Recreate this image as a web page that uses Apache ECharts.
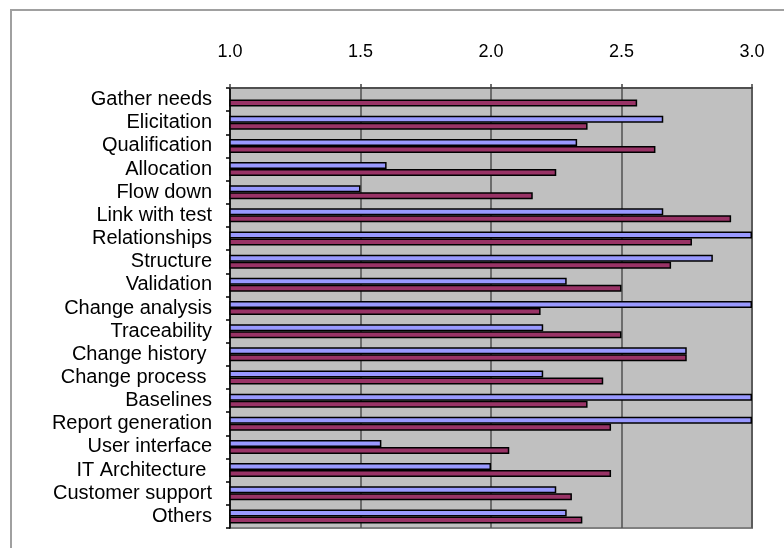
<!DOCTYPE html>
<html>
<head>
<meta charset="utf-8">
<script src="https://cdn.jsdelivr.net/npm/echarts@6/dist/echarts.min.js"></script>
<style>
  html, body { margin: 0; padding: 0; background: #ffffff; }
  #chart { width: 784px; height: 548px; }
</style>
</head>
<body>
<div id="chart"></div>
<script>
// Requirement topics, listed top to bottom
const categories = [
  'Gather needs', 'Elicitation', 'Qualification', 'Allocation', 'Flow down',
  'Link with test', 'Relationships', 'Structure', 'Validation', 'Change analysis',
  'Traceability', 'Change history ', 'Change process ', 'Baselines',
  'Report generation', 'User interface', 'IT Architecture ', 'Customer support', 'Others'
];

// First series (light blue bars)
const seriesA = [
  null, 2.66, 2.33, 1.60, 1.50,
  2.66, 3.00, 2.85, 2.29, 3.00,
  2.20, 2.75, 2.20, 3.00,
  3.00, 1.58, 2.00, 2.25, 2.29
];

// Second series (maroon bars)
const seriesB = [
  2.56, 2.37, 2.63, 2.25, 2.16,
  2.92, 2.77, 2.69, 2.50, 2.19,
  2.50, 2.75, 2.43, 2.37,
  2.46, 2.07, 2.46, 2.31, 2.35
];

// Value axis ticks
const axisMin = 1.0;
const axisMax = 3.0;
const axisStep = 0.5;

const chart = echarts.init(document.getElementById('chart'));

const font = 'Liberation Sans, Arial, sans-serif';

chart.setOption({
  animation: false,
  backgroundColor: '#ffffff',
  graphic: [{
    type: 'rect',
    shape: { x: 11, y: 10, width: 900, height: 700 },
    style: { fill: 'none', stroke: '#a0a0a0', lineWidth: 2 },
    silent: true,
    z: 0
  }],
  grid: {
    left: 230, right: 32, top: 88, bottom: 20,
    show: true,
    backgroundColor: '#c0c0c0',
    borderColor: '#808080',
    borderWidth: 2
  },
  xAxis: {
    type: 'value',
    position: 'top',
    min: axisMin,
    max: axisMax,
    interval: axisStep,
    axisLine: { show: true, lineStyle: { color: '#404040', width: 1.5 } },
    axisTick: { show: true, inside: false, length: 4, lineStyle: { color: '#404040', width: 1.5 } },
    axisLabel: {
      margin: 27,
      color: '#000000',
      fontFamily: font,
      fontSize: 18,
      formatter: v => v.toFixed(1)
    },
    splitLine: { show: true, lineStyle: { color: '#505050', width: 1.5 } }
  },
  yAxis: {
    type: 'category',
    data: categories,
    inverse: true,
    axisLine: { show: true, lineStyle: { color: '#000000', width: 1.5 } },
    axisTick: { show: true, inside: false, length: 4, interval: 0, lineStyle: { color: '#000000', width: 1.5 } },
    axisLabel: {
      interval: 0,
      margin: 18,
      color: '#000000',
      fontFamily: font,
      fontSize: 20
    },
    splitLine: { show: false }
  },
  series: [
    {
      type: 'bar',
      data: seriesA,
      barWidth: 7,
      barGap: '0%',
      itemStyle: { color: '#9999ff', borderColor: '#000000', borderWidth: 1.5 }
    },
    {
      type: 'bar',
      data: seriesB,
      barWidth: 7,
      barGap: '0%',
      itemStyle: { color: '#993366', borderColor: '#000000', borderWidth: 1.5 }
    }
  ]
});
</script>
</body>
</html>
